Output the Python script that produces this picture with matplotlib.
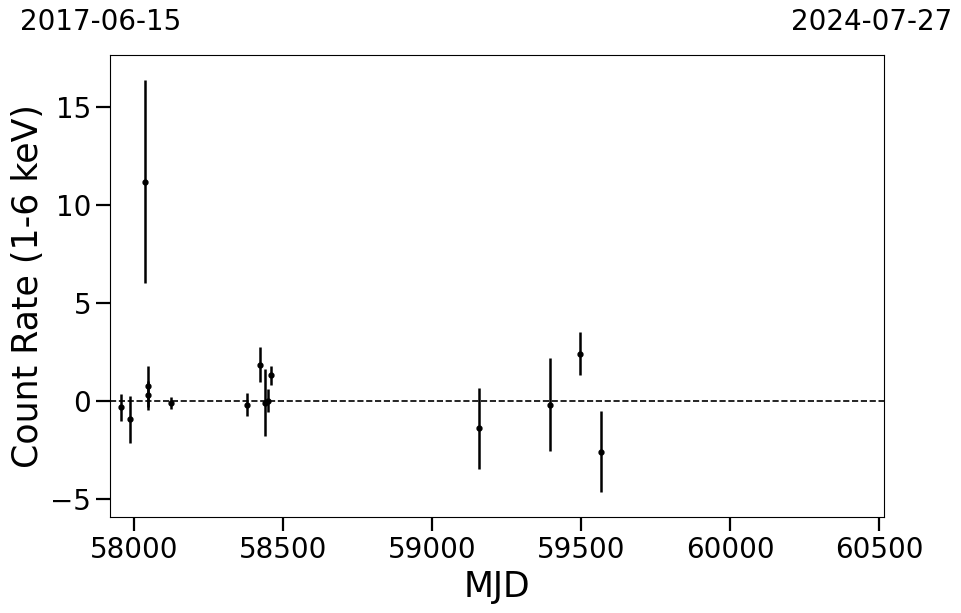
import matplotlib
matplotlib.use("Agg")
import matplotlib.pyplot as plt
import numpy as np

mjd = [57956, 57987, 58037, 58045, 58046, 58124, 58379, 58424, 58440, 58451, 58460,
       59158, 59396, 59498, 59568]
rate = [-0.32, -0.93, 11.2, 0.75, 0.30, -0.10, -0.17, 1.87, -0.08, 0.03, 1.31,
        -1.39, -0.17, 2.43, -2.57]
err = [0.67, 1.2, 5.15, 1.05, 0.75, 0.30, 0.58, 0.90, 1.70, 0.60, 0.47,
       2.05, 2.35, 1.08, 2.06]
xlim = (57919, 60518)
start_label = "2017-06-15"
end_label = "2024-07-27"

fig = plt.figure(figsize=(9.62, 6.13), dpi=100)
ax = fig.add_axes([110/962, (613-517.3)/613, 774.3/962, 462.3/613])

ax.errorbar(mjd, rate, yerr=err, fmt='o', color='black', ms=3.5, elinewidth=1.8,
            capsize=0, zorder=3)
ax.axhline(0, color='black', ls='--', lw=1.2, zorder=2)

ax.set_xlim(*xlim)
ax.set_ylim(-5.92, 17.65)
ax.set_yticks([-5, 0, 5, 10, 15])
ax.set_xticks([58000, 58500, 59000, 59500, 60000, 60500])
ax.tick_params(axis='both', labelsize=20, length=10, width=1.6)
ax.set_xlabel("MJD", fontsize=25)
ax.set_ylabel("Count Rate (1-6 keV)", fontsize=25)

fig.text(20/962, 1 - 22/613, start_label, fontsize=20, ha='left', va='center')
fig.text(952/962, 1 - 22/613, end_label, fontsize=20, ha='right', va='center')

fig.savefig("out.png", dpi=100)
